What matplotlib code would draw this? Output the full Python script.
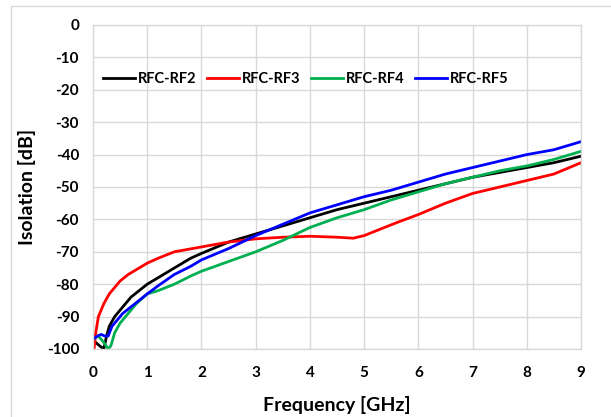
import matplotlib
matplotlib.use("Agg")
import matplotlib.pyplot as plt
from matplotlib.patches import Rectangle

plt.rcParams['font.family'] = ['Lato', 'DejaVu Sans']
plt.rcParams['font.weight'] = 'bold'
plt.rcParams['axes.unicode_minus'] = False

# frequency [GHz] and isolation [dB]
f_rf2 = [0.0, 0.05, 0.12, 0.2, 0.25, 0.3, 0.4, 0.5, 0.6, 0.7, 0.85, 1.0, 1.2, 1.5, 1.8, 2.0, 2.5, 3.0, 3.5, 4.0, 4.5, 5.0, 5.5, 6.0, 6.5, 7.0, 7.5, 8.0, 8.5, 9.0]
iso_rf2 = [-97, -98, -99, -100, -96, -93, -90, -88, -86, -84, -82, -80, -78, -75, -72, -70.5, -67, -64.5, -62, -59.5, -57, -55, -53, -51, -49, -47, -45.5, -44, -42.5, -40.5]

f_rf3 = [0.02, 0.05, 0.1, 0.2, 0.3, 0.4, 0.5, 0.65, 0.8, 1.0, 1.2, 1.5, 2.0, 2.5, 3.0, 3.5, 4.0, 4.5, 4.8, 5.0, 5.3, 5.6, 6.0, 6.5, 7.0, 7.5, 8.0, 8.5, 9.0]
iso_rf3 = [-100, -95, -90, -86, -83, -81, -79, -77, -75.5, -73.5, -72, -70, -68.5, -67, -66, -65.5, -65.2, -65.5, -65.8, -65, -63, -61, -58.5, -55, -52, -50, -48, -46, -42.5]

f_rf4 = [0.0, 0.1, 0.2, 0.28, 0.33, 0.4, 0.5, 0.6, 0.7, 0.8, 0.9, 1.0, 1.2, 1.5, 1.8, 2.0, 2.5, 3.0, 3.5, 4.0, 4.5, 5.0, 5.5, 6.0, 6.5, 7.0, 7.5, 8.0, 8.5, 9.0]
iso_rf4 = [-97, -96, -98, -100, -99, -95, -92, -90, -88, -86, -84.5, -83, -82, -80, -77.5, -76, -73, -70, -66.5, -62.5, -59.5, -57, -54, -51.5, -49, -47, -45, -43.5, -41.5, -39]

f_rf5 = [0.0, 0.08, 0.15, 0.22, 0.28, 0.35, 0.45, 0.55, 0.7, 0.85, 1.0, 1.2, 1.5, 1.8, 2.0, 2.5, 3.0, 3.5, 4.0, 4.5, 5.0, 5.5, 6.0, 6.5, 7.0, 7.5, 8.0, 8.5, 9.0]
iso_rf5 = [-97, -96, -95.5, -96, -96, -93, -91, -89, -87, -85, -83, -80.5, -77, -74.5, -72.5, -69, -65, -61.5, -58, -55.5, -53, -51, -48.5, -46, -44, -42, -40, -38.5, -36]

names = ['RFC-RF2', 'RFC-RF3', 'RFC-RF4', 'RFC-RF5']
colors = ['#000000', '#ff0000', '#00b050', '#0000ff']

fig = plt.figure(figsize=(6.11, 4.17), dpi=100)
ax = fig.add_axes([93 / 611, 68 / 417, 488 / 611, 324 / 417])

for f, iso, name, c in zip([f_rf2, f_rf3, f_rf4, f_rf5],
                           [iso_rf2, iso_rf3, iso_rf4, iso_rf5], names, colors):
    ax.plot(f, iso, color=c, lw=2, label=name)

ax.set_xlim(0, 9)
ax.set_ylim(-100, 0)
ax.set_xticks(range(0, 10))
ax.set_yticks(range(-100, 1, 10))
ax.grid(True, color='#d9d9d9', lw=1)
ax.set_axisbelow(True)
for s in ax.spines.values():
    s.set_color('#d9d9d9')
    s.set_linewidth(1)
ax.tick_params(length=0, labelsize=11, pad=10)
ax.tick_params(axis='x', pad=12)
ax.set_xlabel('Frequency [GHz]', fontsize=14, fontweight='bold', labelpad=12)
ax.set_ylabel('Isolation [dB]', fontsize=14, fontweight='bold', labelpad=8)

ax.legend(loc='upper left', bbox_to_anchor=(0.0, 0.885), ncol=4, frameon=False,
          fontsize=10.5, handlelength=2.2, handletextpad=0.2, columnspacing=0.7,
          borderaxespad=0.3)

fig.patches.append(Rectangle((11 / 611, -0.1), 1.2, (411 / 417) + 0.1,
                             transform=fig.transFigure, fill=False,
                             edgecolor='#d9d9d9', lw=1))

fig.savefig('out.png', dpi=100)
